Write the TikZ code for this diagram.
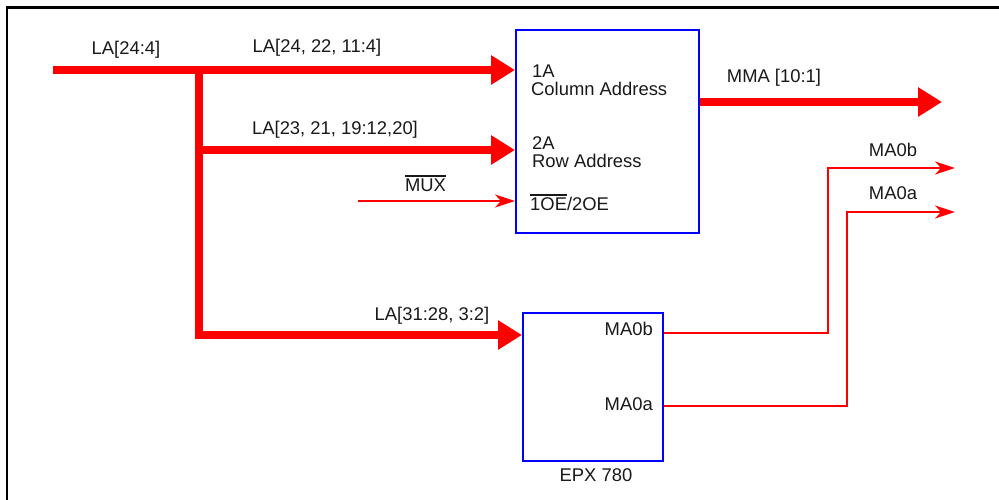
\documentclass[tikz,border=0pt]{standalone}
\usepackage{fontspec}
\setmainfont{Liberation Sans}
\usetikzlibrary{arrows.meta}
\definecolor{sigred}{RGB}{255,0,0}
\definecolor{boxblue}{RGB}{0,0,255}
\newcommand{\ovl}[1]{\leavevmode\hbox{\vbox{\hrule height 1.6pt\kern 2.6pt\hbox{#1}}}}
\tikzset{
  lbl/.style={inner sep=0pt, font=\fontsize{18.4}{22}\selectfont, text=black!90},
  blk/.style={draw=boxblue, line width=2pt, inner sep=0pt, fill=none},
  bus/.style={draw=sigred, line width=8pt, line join=miter},
  busarrow/.style={bus, -{Triangle[length=24pt,width=28pt]}},
  sig/.style={draw=sigred, line width=2pt},
  sigarrow/.style={sig, -{Stealth[length=20pt,width=13pt,inset=6pt]}},
  frame/.style={draw=black, line width=2.6pt}
}
\begin{document}
\begin{tikzpicture}[x=1pt,y=-1pt]
\useasboundingbox (0,0) rectangle (999,500);
% frame
\draw[frame] (7,500) -- (7,7.5) -- (999,7.5);
% blocks
\node[blk, minimum width=183pt, minimum height=203pt] (box1) at (607.5,131.5) {};
\node[blk, minimum width=140pt, minimum height=148pt] (box2) at (593,387) {};
% coordinates
\coordinate (busstart) at (53,70);
\coordinate (tee) at (199,70);
\coordinate (teeb) at (199,150);
\coordinate (teec) at (199,335);
\coordinate (mmaend) at (942,102);
\coordinate (muxstart) at (358,201);
\coordinate (ma0bout) at (955,168);
\coordinate (ma0aout) at (955,212);
\coordinate (pb) at (828,333);
\coordinate (pa) at (847,406);
% bus connectors
\draw[busarrow] (busstart) -- (box1.west |- tee);
\draw[busarrow] (tee) -- (teec) -- (box2.west |- teec);
\draw[busarrow] (teeb) -- (box1.west |- teeb);
\draw[busarrow] (box1.east |- mmaend) -- (mmaend);
% thin connectors
\draw[sigarrow] (muxstart) -- (box1.west |- muxstart);
\draw[sigarrow] (box2.east |- pb) -- (pb) -- (pb |- ma0bout) -- (ma0bout);
\draw[sigarrow] (box2.east |- pa) -- (pa) -- (pa |- ma0aout) -- (ma0aout);
% labels
\node[lbl] (l1) at (126,50) {LA[24:4]};
\node[lbl] (l2) at (317,48) {LA[24, 22, 11:4]};
\node[lbl] (l3) at (335,130) {LA[23, 21, 19:12,20]};
\node[lbl, anchor=base] (l4) at (425.5,192) {\ovl{MUX}};
\node[lbl] (l5) at (432,316) {LA[31:28, 3:2]};
\node[lbl] (l6) at (774,78) {MMA [10:1]};
\node[lbl] (l7) at (893,150) {MA0b};
\node[lbl] (l8) at (893,193) {MA0a};
\node[lbl, anchor=west] (t1) at (532,71) {1A};
\node[lbl, anchor=west] (t2) at (531,89) {Column Address};
\node[lbl, anchor=west] (t3) at (532,143) {2A};
\node[lbl, anchor=west] (t4) at (532,161) {Row Address};
\node[lbl, anchor=base west] (t5) at (530,211) {\ovl{1OE}/2OE};
\node[lbl, anchor=east] (t6) at (653,329) {MA0b};
\node[lbl, anchor=east] (t7) at (653,404) {MA0a};
\node[lbl] (t8) at (596,475) {EPX 780};
\end{tikzpicture}
\end{document}
